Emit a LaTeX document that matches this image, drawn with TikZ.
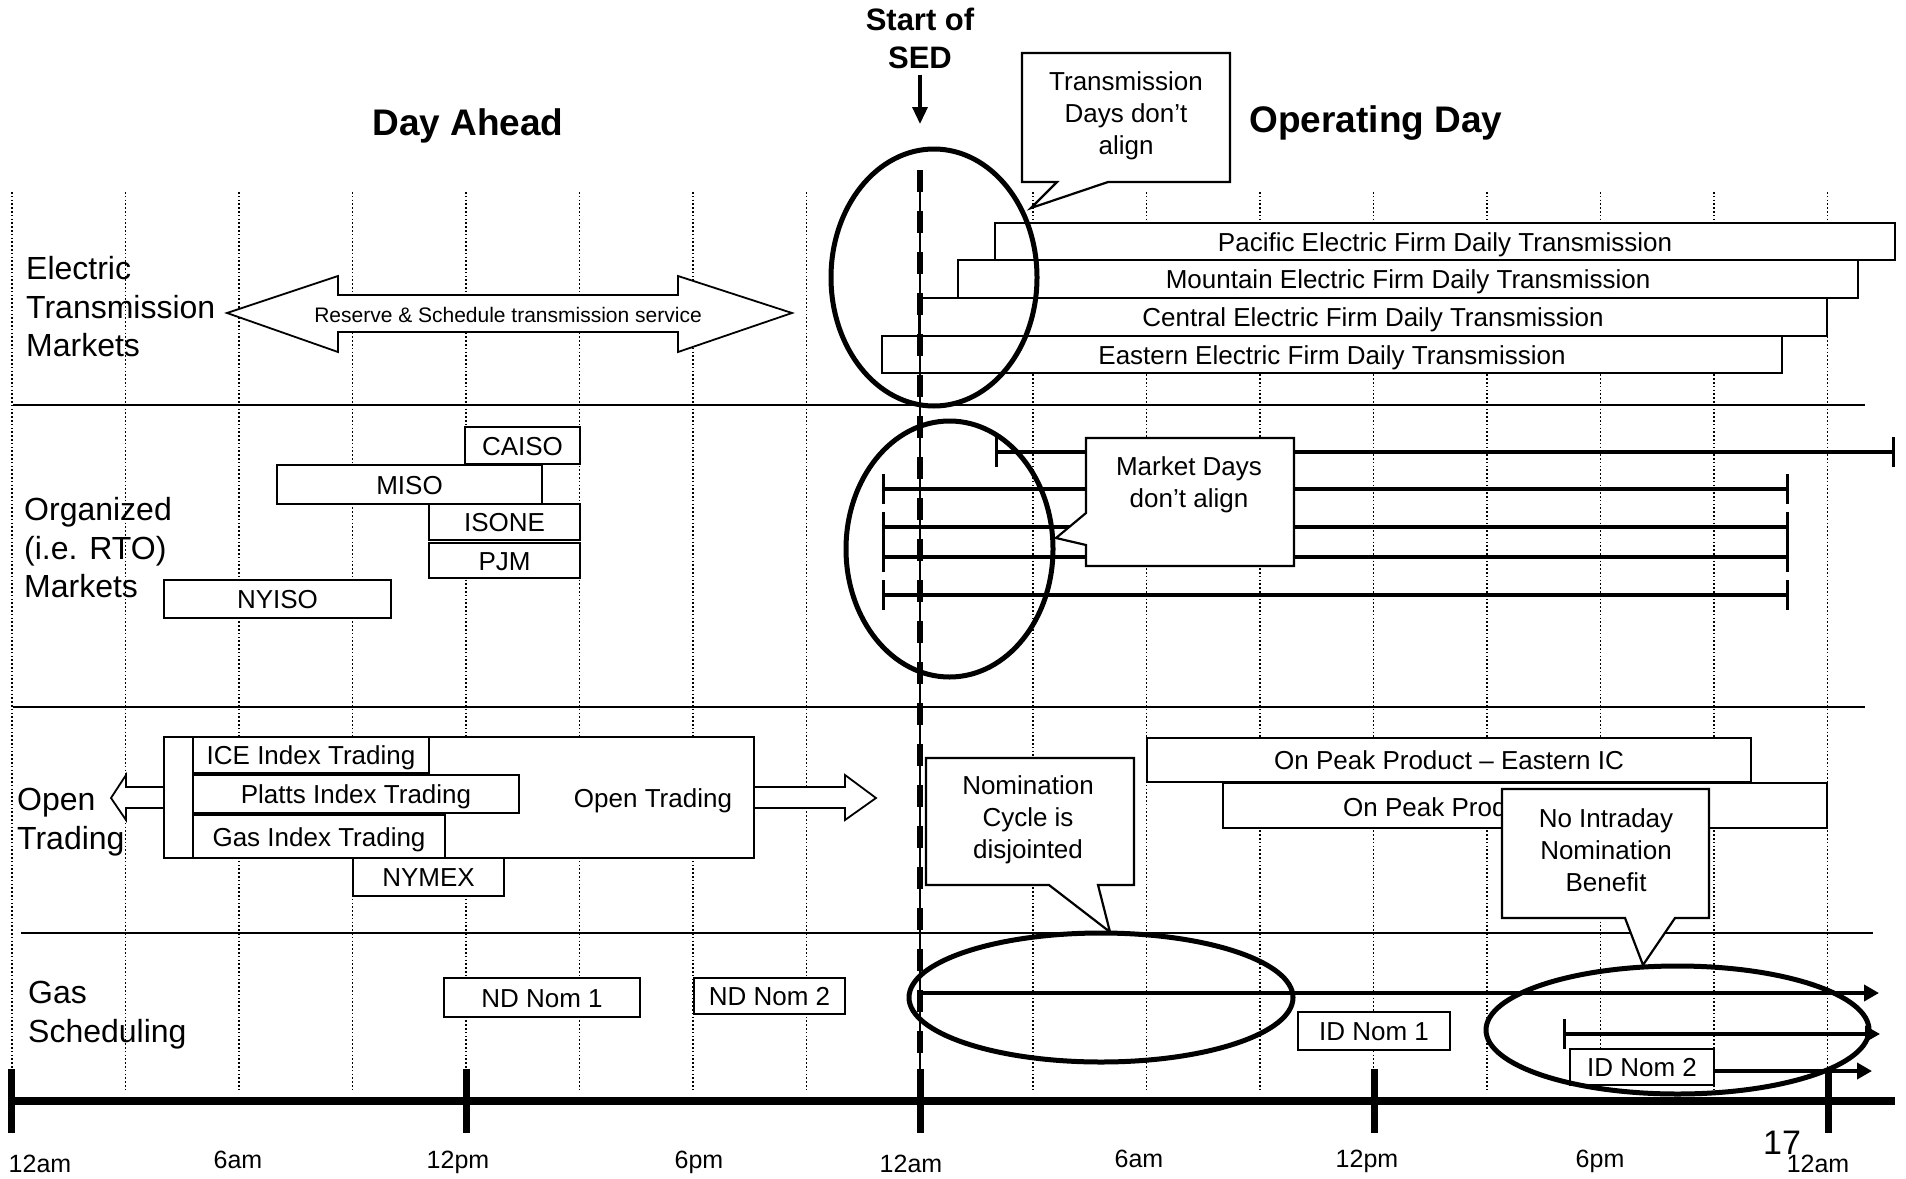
\documentclass[tikz,border=0pt]{standalone}
\usepackage{fontspec}
\setmainfont{Liberation Sans}
\usetikzlibrary{arrows.meta}
\newcommand\mybox[6]{\node[bx, minimum width={#4pt-#2pt}, minimum height={#5pt-#3pt}] (#1) at ({(#2+#4)/2},{(#3+#5)/2}) {#6};}
\begin{document}
\begin{tikzpicture}[x=1pt,y=-1pt,
  bx/.style={draw, fill=white, line width=1.8pt, inner sep=0pt, text height=19pt, text depth=0pt, font=\fontsize{26}{31}\selectfont},
  rowlbl/.style={align=left, anchor=west, inner sep=0pt, font=\fontsize{32}{38.5}\selectfont},
  callout/.style={draw, fill=white, line width=2.2pt, line join=miter},
  ctext/.style={align=center, inner sep=0pt, font=\fontsize{26}{32}\selectfont},
  vgrid/.style={line width=1.05pt, dash pattern=on 1.5pt off 2.3pt},
  hsep/.style={line width=2.2pt},
  mline/.style={line width=4.2pt, arrows={Bar[width=30pt,line width=2.6pt]-Bar[width=30pt,line width=2.6pt]}},
  ring/.style={line width=5pt},
  tlab/.style={anchor=base, inner sep=0pt, font=\fontsize{25}{30}\selectfont},
  gasln/.style={line width=4pt, -{Triangle[length=15pt,width=16pt]}},
  fatarrow/.style={draw, fill=white, line width=1.8pt, line join=miter},
  bigtitle/.style={inner sep=0pt, font=\bfseries\fontsize{37}{44}\selectfont},
]
\fill[white] (0,0) rectangle (1906,1178);
\useasboundingbox (0,0) rectangle (1906,1178);

% grid
\foreach \gx in {12,125.5,239,352.5,466,579.5,693,806.5,1033,1146.5,1260,1373.5,1487,1600.5,1714,1827.5}
  \draw[vgrid] (\gx,192) -- (\gx,1090);

% separators
\draw[hsep] (13,405) -- (1865,405);
\draw[hsep, line width=2.5pt] (13,707) -- (1865,707);
\draw[hsep] (21,933) -- (1873,933);

% titles
\node[bigtitle, font=\bfseries\fontsize{31}{38}\selectfont, align=center] (sed) at (920,38) {Start of\\SED};
\coordinate (sedtip) at (920,124);
\draw[line width=3.5pt, -{Triangle[length=17pt,width=15pt]}, shorten <=6pt] (sed.south) -- (sedtip);
\node[bigtitle, anchor=base] (dayahead) at (468,135) {Day Ahead};
\node[bigtitle, anchor=base] (opday) at (1376,132) {Operating Day};

% row labels
\node[rowlbl] (lblelec) at (26,307) {Electric\\Transmission\\Markets};
\node[rowlbl] (lblrto) at (24,548) {Organized\\(i.e. RTO)\\Markets};
\node[rowlbl] (lblopen) at (17,822) {Open\\Trading};
\node[rowlbl] (lblgas) at (28,1015) {Gas\\Scheduling};

% reserve arrow
\draw[fatarrow] (227,313) -- (338,276) -- (338,295) -- (678,295) -- (678,276) -- (792,313) -- (678,352) -- (678,332) -- (338,332) -- (338,352) -- cycle;
\node[inner sep=0pt, font=\fontsize{21}{25}\selectfont] (reserve) at (508,315) {Reserve \& Schedule transmission service};

% transmission boxes
\mybox{pac}{995}{223}{1895}{260}{Pacific Electric Firm Daily Transmission}
\mybox{mtn}{958}{260}{1858}{298}{Mountain Electric Firm Daily Transmission}
\mybox{cen}{919}{298}{1827}{336}{Central Electric Firm Daily Transmission}
\mybox{eas}{882}{336}{1782}{373}{Eastern Electric Firm Daily Transmission}

% RTO boxes
\mybox{caiso}{465}{427}{580}{464}{CAISO}
\mybox{miso}{277}{465}{542}{504}{MISO}
\mybox{isone}{429}{504}{580}{540}{ISONE}
\mybox{pjm}{429}{543}{580}{578}{PJM}
\mybox{nyiso}{164}{580}{391}{618}{NYISO}

% market lines
\draw[mline] (995,452) -- (1895,452);
\draw[mline] (882,489) -- (1789,489);
\draw[mline] (882,527) -- (1789,527);
\draw[mline] (882,557) -- (1789,557);
\draw[mline] (882,595) -- (1789,595);

% open trading
\draw[fatarrow] (164,787) -- (126,787) -- (126,775) -- (111,798) -- (126,820) -- (126,808) -- (164,808);
\draw[fatarrow] (754,787) -- (845,787) -- (845,775) -- (876,798) -- (845,820) -- (845,808) -- (754,808);
\node[bx, minimum width=590pt, minimum height=121pt] (otbox) at (459,797.5) {};
\draw[line width=1.8pt] (193,737) -- (193,858);
\mybox{ice}{193}{737}{429}{773}{ICE Index Trading}
\mybox{platts}{193}{775}{519}{813}{Platts Index Trading}
\mybox{gasidx}{193}{815}{445}{858}{Gas Index Trading}
\mybox{nymex}{353}{858}{504}{896}{NYMEX}
\node[inner sep=0pt, font=\fontsize{26}{31}\selectfont] (ottext) at (653,801) {Open Trading};

\mybox{onpk1}{1147}{738}{1751}{782}{On Peak Product – Eastern IC}
\node[bx, minimum width=604pt, minimum height=45pt] (onpk2) at (1525,805.5) {};
\node[inner sep=0pt, anchor=west, font=\fontsize{26}{31}\selectfont] (onpk2txt) at (1343,807) {On Peak Product};

% gas boxes
\mybox{nd1}{444}{978}{640}{1017}{ND Nom 1}
\mybox{nd2}{694}{978}{845}{1014}{ND Nom 2}
\mybox{id1}{1298}{1012}{1450}{1050}{ID Nom 1}
\mybox{id2}{1570}{1049}{1714}{1085}{ID Nom 2}

% gas arrows
\coordinate (g1s) at (920,993);
\coordinate (g1e) at (1879,993);
\draw[gasln] (g1s) -- (g1e);
\coordinate (g2s) at (1563,1034);
\coordinate (g2e) at (1880,1034);
\draw[line width=3.2pt, arrows={Bar[width=30pt,line width=2.5pt]-Triangle[length=15pt,width=16pt]}] (g2s) -- (g2e);
\coordinate (g3e) at (1872,1071);
\draw[gasln] (id2.east |- g3e) -- (g3e);

% ellipses
\draw[ring] (934,277.5) ellipse [x radius=103pt, y radius=128.5pt];
\draw[ring] (949.5,549) ellipse [x radius=103.5pt, y radius=128pt];
\draw[ring] (1101,997.5) ellipse [x radius=192pt, y radius=64.5pt];
\draw[ring] (1677.5,1030) ellipse [x radius=191.5pt, y radius=64pt];

% start of SED line
\coordinate (dtop) at (920,170);
\coordinate (dbot) at (920,1132);
\draw[line width=2pt] (dtop) -- (dbot);
\draw[line width=6.5pt, dash pattern=on 22pt off 19pt] (dtop) -- (dbot);

% callouts
\draw[callout] (1022,53) -- (1230,53) -- (1230,182) -- (1108,182) -- (1031,208) -- (1057,182) -- (1022,182) -- cycle;
\node[ctext] (ctrans) at (1126,115.5) {Transmission\\Days don’t\\align};
\draw[callout] (1086,438) -- (1294,438) -- (1294,566) -- (1086,566) -- (1086,545) -- (1056,538) -- (1086,513) -- cycle;
\node[ctext] (cmkt) at (1189,484.5) {Market Days\\don’t align};
\draw[callout] (926,758) -- (1134,758) -- (1134,885) -- (1098,885) -- (1110,932) -- (1049,885) -- (926,885) -- cycle;
\node[ctext] (cnom) at (1028,820) {Nomination\\Cycle is\\disjointed};
\draw[callout] (1502,789) -- (1709,789) -- (1709,918) -- (1675,918) -- (1643,965) -- (1625,918) -- (1502,918) -- cycle;
\node[ctext] (cnoid) at (1606,850) {No Intraday\\Nomination\\Benefit};

% axis
\coordinate (ax0) at (8,1101);
\coordinate (ax1) at (1895,1101);
\draw[line width=8pt] (ax0) -- (ax1);
\foreach \tx in {11,466,920,1374,1828}
  \draw[line width=7pt] (\tx,1069) -- (\tx,1133);

% time labels
\node[tlab] (t0) at (40,1172) {12am};
\node[tlab] (t1) at (238,1168) {6am};
\node[tlab] (t2) at (458,1168) {12pm};
\node[tlab] (t3) at (699,1168) {6pm};
\node[tlab] (t4) at (911,1172) {12am};
\node[tlab] (t5) at (1139,1167) {6am};
\node[tlab] (t6) at (1367,1167) {12pm};
\node[tlab] (t7) at (1600,1167) {6pm};
\node[tlab] (t8) at (1818,1172) {12am};
\node[tlab, font=\fontsize{34}{40}\selectfont] (pg) at (1782,1154) {17};
\end{tikzpicture}
\end{document}
